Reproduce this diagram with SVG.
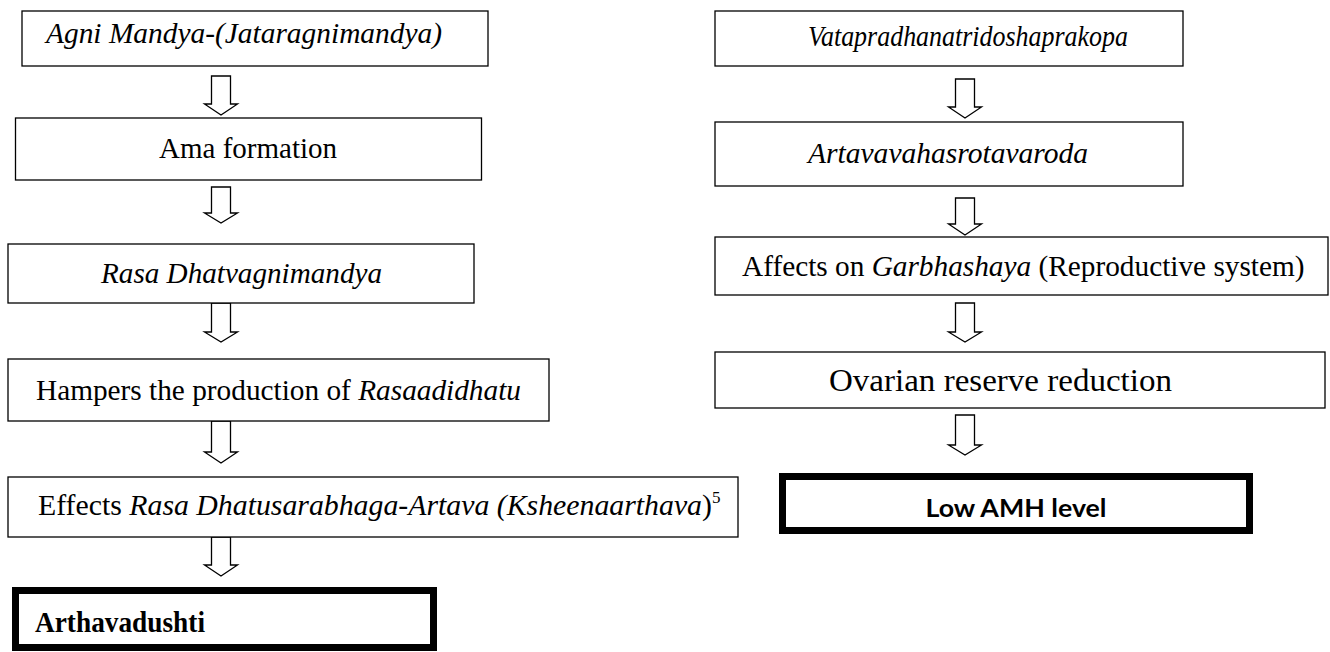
<svg xmlns="http://www.w3.org/2000/svg" width="1330" height="652" viewBox="0 0 1330 652">
<style>
.box{fill:#fff;stroke:#000;stroke-width:1.3}
.thick{fill:#fff;stroke:#000;stroke-width:7}
.arr{fill:#fff;stroke:#000;stroke-width:1.3;stroke-linejoin:miter}
.t{font-family:"Liberation Serif","Times New Roman",serif;font-size:29px;fill:#000}
.i{font-style:italic}
.b{font-weight:bold}
.s{font-family:Lato,"Open Sans",sans-serif;font-weight:bold;font-size:25px;fill:#000}
</style>
<rect width="1330" height="652" fill="#fff"/>
<g id="connectors">
<path class="arr" d="M211.5,76 L230.5,76 L230.5,104 L237.5,104 L221,115 L204.5,104 L211.5,104 Z"/>
<path class="arr" d="M211.5,187 L230.5,187 L230.5,213 L237.5,213 L221,223 L204.5,213 L211.5,213 Z"/>
<path class="arr" d="M211.5,303 L230.5,303 L230.5,332 L237.5,332 L221,342 L204.5,332 L211.5,332 Z"/>
<path class="arr" d="M211.5,421 L230.5,421 L230.5,452 L237.5,452 L221,463 L204.5,452 L211.5,452 Z"/>
<path class="arr" d="M211.5,537 L230.5,537 L230.5,565 L237.5,565 L221,576 L204.5,565 L211.5,565 Z"/>
<path class="arr" d="M955.5,79 L974.5,79 L974.5,107 L981.5,107 L965,118 L948.5,107 L955.5,107 Z"/>
<path class="arr" d="M955.5,198 L974.5,198 L974.5,224 L981.5,224 L965,235 L948.5,224 L955.5,224 Z"/>
<path class="arr" d="M955.5,303 L974.5,303 L974.5,332 L981.5,332 L965,342 L948.5,332 L955.5,332 Z"/>
<path class="arr" d="M955.5,415 L974.5,415 L974.5,445 L981.5,445 L965,455 L948.5,445 L955.5,445 Z"/>
</g>
<g id="n-agni">
<rect class="box" x="22" y="11" width="466" height="55"/>
<text class="t i" x="46" y="43" textLength="396" lengthAdjust="spacingAndGlyphs">Agni Mandya-(Jataragnimandya)</text>
</g>
<g id="n-ama">
<rect class="box" x="15.5" y="118" width="466" height="62"/>
<text class="t" x="159" y="158" textLength="178" lengthAdjust="spacingAndGlyphs">Ama formation</text>
</g>
<g id="n-rasa">
<rect class="box" x="8" y="244" width="466" height="59"/>
<text class="t i" x="101" y="283" textLength="281" lengthAdjust="spacingAndGlyphs">Rasa Dhatvagnimandya</text>
</g>
<g id="n-hampers">
<rect class="box" x="8" y="359" width="541" height="62"/>
<text class="t" x="36" y="400" style="font-size:29.3px">Hampers the production of <tspan class="i">Rasaadidhatu</tspan></text>
</g>
<g id="n-effects">
<rect class="box" x="8" y="477" width="730" height="60"/>
<text class="t" x="38" y="515" style="font-size:29.8px">Effects <tspan class="i">Rasa Dhatusarabhaga-Artava (Ksheenaarthava</tspan>)<tspan dy="-12" style="font-size:17px">5</tspan></text>
</g>
<g id="n-arthavadushti">
<rect class="thick" x="15.5" y="590.5" width="418" height="57"/>
<text class="t b" x="35" y="632" textLength="170" lengthAdjust="spacingAndGlyphs">Arthavadushti</text>
</g>
<g id="n-vata">
<rect class="box" x="715" y="11" width="468" height="55"/>
<text class="t i" x="808" y="46" textLength="320" lengthAdjust="spacingAndGlyphs">Vatapradhanatridoshaprakopa</text>
</g>
<g id="n-artava">
<rect class="box" x="715" y="122" width="468" height="64"/>
<text class="t i" x="808" y="163" textLength="280" lengthAdjust="spacingAndGlyphs">Artavavahasrotavaroda</text>
</g>
<g id="n-affects">
<rect class="box" x="715" y="237" width="613" height="58"/>
<text class="t" x="742" y="276" style="font-size:29.3px">Affects on <tspan class="i">Garbhashaya</tspan> (Reproductive system)</text>
</g>
<g id="n-ovarian">
<rect class="box" x="715" y="352" width="610" height="56"/>
<text class="t" x="829" y="391" style="font-size:31px" textLength="343" lengthAdjust="spacingAndGlyphs">Ovarian reserve reduction</text>
</g>
<g id="n-amh">
<rect class="thick" x="782.5" y="476.5" width="467" height="54"/>
<text class="s" x="1016" y="517" text-anchor="middle" textLength="181" lengthAdjust="spacingAndGlyphs">Low AMH level</text>
</g>
</svg>
